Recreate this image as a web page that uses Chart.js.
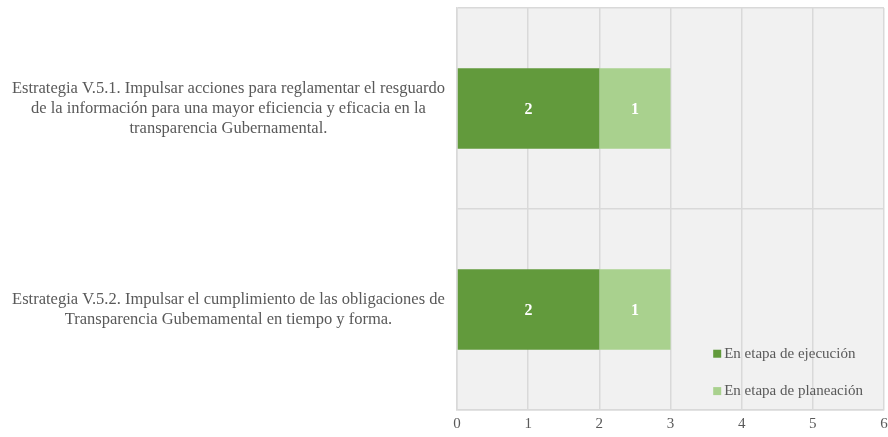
<!DOCTYPE html>
<html>
<head>
<meta charset="utf-8">
<script src="https://cdn.jsdelivr.net/npm/chart.js@4/dist/chart.umd.min.js"></script>
<style>
  html, body { margin: 0; padding: 0; background: #ffffff; }
  #wrap { width: 888px; height: 437px; position: relative; }
</style>
</head>
<body>
<div id="wrap"><canvas id="c"></canvas></div>
<script>
// Strategy labels (one array entry per line)
const categories = [
  ["Estrategia V.5.1. Impulsar acciones para reglamentar el resguardo",
   "de la información para una mayor eficiencia y eficacia en la",
   "transparencia Gubernamental."],
  ["Estrategia V.5.2. Impulsar el cumplimiento de las obligaciones de",
   "Transparencia Gubemamental en tiempo y forma."]
];
const seriesNames = ["En etapa de ejecución", "En etapa de planeación"];
const enEjecucion = [2, 2];
const enPlaneacion = [1, 1];
const xTicks = [0, 1, 2, 3, 4, 5, 6];

const serif = "'Liberation Serif', 'DejaVu Serif', serif";
const textGray = '#595959';
const colors = ['#629a3c', '#a9d18e'];

// Light gray panel behind the plot
const plotBackground = {
  id: 'plotBackground',
  beforeDraw(chart) {
    const { ctx, chartArea: a } = chart;
    ctx.save();
    ctx.fillStyle = '#f1f1f1';
    ctx.fillRect(a.left, a.top, a.right - a.left, a.bottom - a.top);
    ctx.restore();
  }
};

// White value labels centered on each bar segment
const valueLabels = {
  id: 'valueLabels',
  afterDatasetsDraw(chart) {
    const { ctx } = chart;
    ctx.save();
    ctx.fillStyle = '#ffffff';
    ctx.font = 'bold 16px ' + serif;
    ctx.textAlign = 'center';
    ctx.textBaseline = 'middle';
    chart.data.datasets.forEach((ds, i) => {
      const meta = chart.getDatasetMeta(i);
      meta.data.forEach((el, j) => {
        const v = ds.data[j];
        if (!v) return;
        const p = el.getCenterPoint();
        ctx.fillText(String(v), p.x, p.y + 1);
      });
    });
    ctx.restore();
  }
};

// Legend drawn inside the lower right of the plot
const innerLegend = {
  id: 'innerLegend',
  afterDraw(chart) {
    const { ctx, chartArea: a } = chart;
    const x0 = a.left + (a.right - a.left) * 0.600;
    const rows = [a.top + (a.bottom - a.top) * 0.860, a.top + (a.bottom - a.top) * 0.953];
    ctx.save();
    ctx.font = '15px ' + serif;
    ctx.textBaseline = 'middle';
    ctx.textAlign = 'left';
    chart.data.datasets.forEach((ds, i) => {
      const y = rows[i];
      ctx.fillStyle = ds.backgroundColor;
      ctx.fillRect(x0, y - 4, 8, 8);
      ctx.fillStyle = textGray;
      ctx.fillText(ds.label, x0 + 11, y);
    });
    ctx.restore();
  }
};

new Chart(document.getElementById('c'), {
  type: 'bar',
  data: {
    labels: categories,
    datasets: [
      { label: seriesNames[0], data: enEjecucion, backgroundColor: colors[0] },
      { label: seriesNames[1], data: enPlaneacion, backgroundColor: colors[1] }
    ]
  },
  options: {
    indexAxis: 'y',
    responsive: true,
    maintainAspectRatio: false,
    animation: false,
    datasets: { bar: { categoryPercentage: 1, barPercentage: 0.4, borderWidth: 0 } },
    layout: { padding: { top: 8, right: 4, left: 0, bottom: 0 } },
    plugins: { legend: { display: false }, tooltip: { enabled: false } },
    scales: {
      x: {
        stacked: true,
        min: xTicks[0],
        max: xTicks[xTicks.length - 1],
        afterBuildTicks(scale) { scale.ticks = xTicks.map(v => ({ value: v })); },
        afterFit(scale) {
          scale.height = 27;
          scale.paddingLeft = 0;
          scale.paddingRight = 0;
        },
        grid: { color: '#d9d9d9', lineWidth: 1.5, drawTicks: false },
        border: { color: '#d9d9d9', width: 1.5 },
        ticks: { color: textGray, font: { family: serif, size: 15 }, padding: 5 }
      },
      y: {
        stacked: true,
        afterFit(scale) {
          scale.width = 457;
          scale.paddingTop = 0;
          scale.paddingBottom = 0;
        },
        grid: { color: '#d9d9d9', lineWidth: 1.5, drawTicks: false, offset: true },
        border: { color: '#d9d9d9', width: 1.5 },
        ticks: {
          color: textGray,
          font: { family: serif, size: 16.5, lineHeight: '20px' },
          crossAlign: 'center',
          padding: 12
        }
      }
    }
  },
  plugins: [plotBackground, valueLabels, innerLegend]
});
</script>
</body>
</html>
